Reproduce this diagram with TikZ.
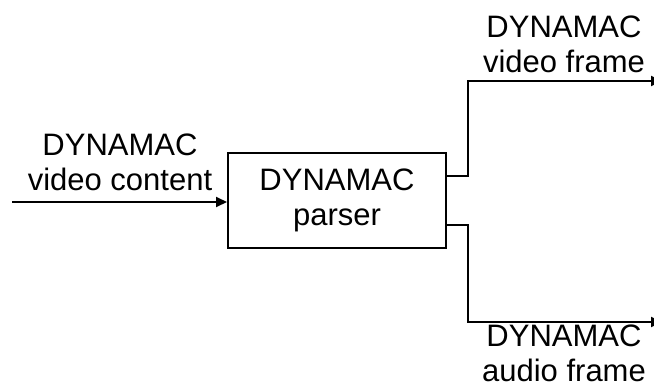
\documentclass[tikz,border=0pt]{standalone}
\usepackage{fontspec}
\setmainfont{Liberation Sans}
\usetikzlibrary{arrows.meta}
\begin{document}
\begin{tikzpicture}[x=1pt,y=-1pt,
  font=\fontsize{31}{35}\selectfont,
  wire/.style={line width=2pt},
  flow/.style={wire,-{Triangle[length=11pt,width=10pt]}},
  lbl/.style={align=center,inner sep=0pt,anchor=base},
  block/.style={draw,line width=2pt,minimum width=218pt,minimum height=95pt,inner sep=0pt,align=center}]
  \useasboundingbox (0,0) rectangle (654,388);
  % parser block
  \node[block] (p) at (337,200.5) {DYNAMAC\\parser};
  % free ends of the connectors
  \coordinate (src) at (12,202);
  \coordinate (vout) at (662,81);
  \coordinate (aout) at (662,322);
  \coordinate (vsplit) at (468,176);
  \coordinate (asplit) at (468,225);
  % connectors
  \draw[flow] (src) -- (p.west |- src);
  \draw[flow] (p.east |- vsplit) -- (vsplit) |- (vout);
  \draw[flow] (p.east |- asplit) -- (asplit) |- (aout);
  % labels (anchored at the baseline of the last line)
  \node[lbl] (lin) at (120,190) {DYNAMAC\\video content};
  \node[lbl] (lv) at (564,72) {DYNAMAC\\video frame};
  \node[lbl] (la) at (564,381) {DYNAMAC\\audio frame};
\end{tikzpicture}
\end{document}
